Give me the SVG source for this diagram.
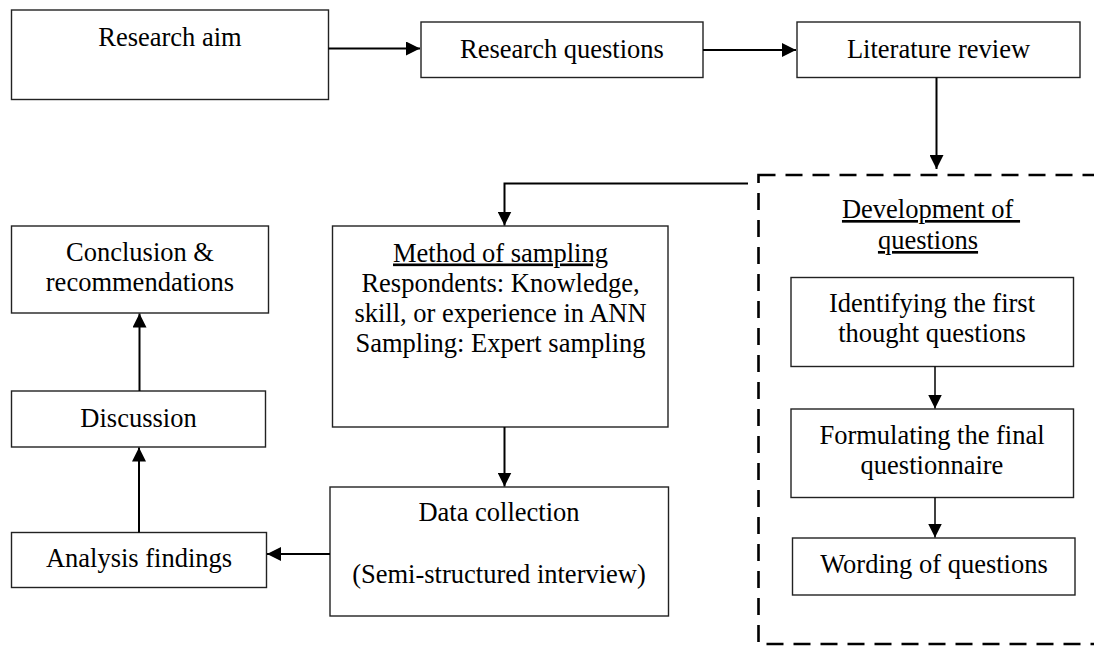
<svg xmlns="http://www.w3.org/2000/svg" width="1094" height="647" viewBox="0 0 1094 647">
<style>
.box{fill:#fff;stroke:#222;stroke-width:1.4}
.t{font-family:"Liberation Serif","Times New Roman",serif;font-size:26.5px;fill:#000;text-anchor:middle}
.u{text-decoration:underline}
.c{fill:none;stroke:#000;stroke-width:2}
.ci{fill:none;stroke:#000;stroke-width:1.5}
.dash{fill:none;stroke:#000;stroke-width:2.6;stroke-dasharray:17 10}
</style>
<defs>
<marker id="ah" viewBox="0 0 14 14" markerWidth="14" markerHeight="14" refX="14" refY="7" orient="auto" markerUnits="userSpaceOnUse">
<path d="M0,0 L14,7 L0,14 z" fill="#000"/>
</marker>
</defs>
<rect width="1094" height="647" fill="#fff"/>
<g id="dev-group">
<rect class="dash" x="758.5" y="175" width="345" height="469"/>
<text class="t u" x="931" y="218">Development of&#160;</text>
<text class="t u" x="928" y="249">questions</text>
</g>
<g id="research-aim"><rect class="box" x="11.5" y="10" width="317" height="89.5"/><text class="t" x="170" y="46">Research aim</text></g>
<g id="research-questions"><rect class="box" x="421" y="22" width="282" height="55.5"/><text class="t" x="562" y="57.5">Research questions</text></g>
<g id="literature-review"><rect class="box" x="797" y="22" width="283" height="55.5"/><text class="t" x="938.5" y="57.5">Literature review</text></g>
<g id="method-of-sampling"><rect class="box" x="332.5" y="226" width="335.5" height="201"/>
<text class="t u" x="500.5" y="261.5">Method of sampling</text>
<text class="t" x="500.5" y="291.5">Respondents: Knowledge,</text>
<text class="t" x="500.5" y="321.5">skill, or experience in ANN</text>
<text class="t" x="500.5" y="351.5">Sampling: Expert sampling</text></g>
<g id="data-collection"><rect class="box" x="330" y="487" width="338.5" height="129"/>
<text class="t" x="499" y="521">Data collection</text>
<text class="t" x="499" y="583">(Semi-structured interview)</text></g>
<g id="conclusion"><rect class="box" x="11.5" y="226" width="257" height="87"/>
<text class="t" x="140" y="260.5">Conclusion &amp;</text>
<text class="t" x="140" y="290.5">recommendations</text></g>
<g id="discussion"><rect class="box" x="11.5" y="391" width="254" height="56"/><text class="t" x="138.5" y="426.5">Discussion</text></g>
<g id="analysis-findings"><rect class="box" x="11.5" y="532.5" width="255" height="55"/><text class="t" x="139" y="566.5">Analysis findings</text></g>
<g id="identifying"><rect class="box" x="791" y="277.5" width="282.5" height="89"/>
<text class="t" x="932" y="311.5">Identifying the first</text>
<text class="t" x="932" y="341.5">thought questions</text></g>
<g id="formulating"><rect class="box" x="791" y="409" width="282.5" height="88.5"/>
<text class="t" x="932" y="443.5">Formulating the final</text>
<text class="t" x="932" y="474">questionnaire</text></g>
<g id="wording"><rect class="box" x="792.5" y="538" width="282.5" height="57"/><text class="t" x="934" y="573">Wording of questions</text></g>
<g id="connectors">
<line class="c" x1="328.5" y1="48.5" x2="420" y2="48.5" marker-end="url(#ah)"/>
<line class="c" x1="703" y1="50" x2="796" y2="50" marker-end="url(#ah)"/>
<line class="c" x1="936.5" y1="77.5" x2="936.5" y2="169" marker-end="url(#ah)"/>
<polyline class="c" points="748,183.5 504.5,183.5 504.5,225.5" marker-end="url(#ah)"/>
<line class="c" x1="504.5" y1="427" x2="504.5" y2="486.5" marker-end="url(#ah)"/>
<line class="c" x1="330" y1="554" x2="267" y2="554" marker-end="url(#ah)"/>
<line class="c" x1="139" y1="532.5" x2="139" y2="447.5" marker-end="url(#ah)"/>
<line class="c" x1="139.5" y1="391" x2="139.5" y2="313.5" marker-end="url(#ah)"/>
<line class="ci" x1="935" y1="366.5" x2="935" y2="408.5" marker-end="url(#ah)"/>
<line class="ci" x1="935" y1="497.5" x2="935" y2="537.5" marker-end="url(#ah)"/>
</g>
</svg>
